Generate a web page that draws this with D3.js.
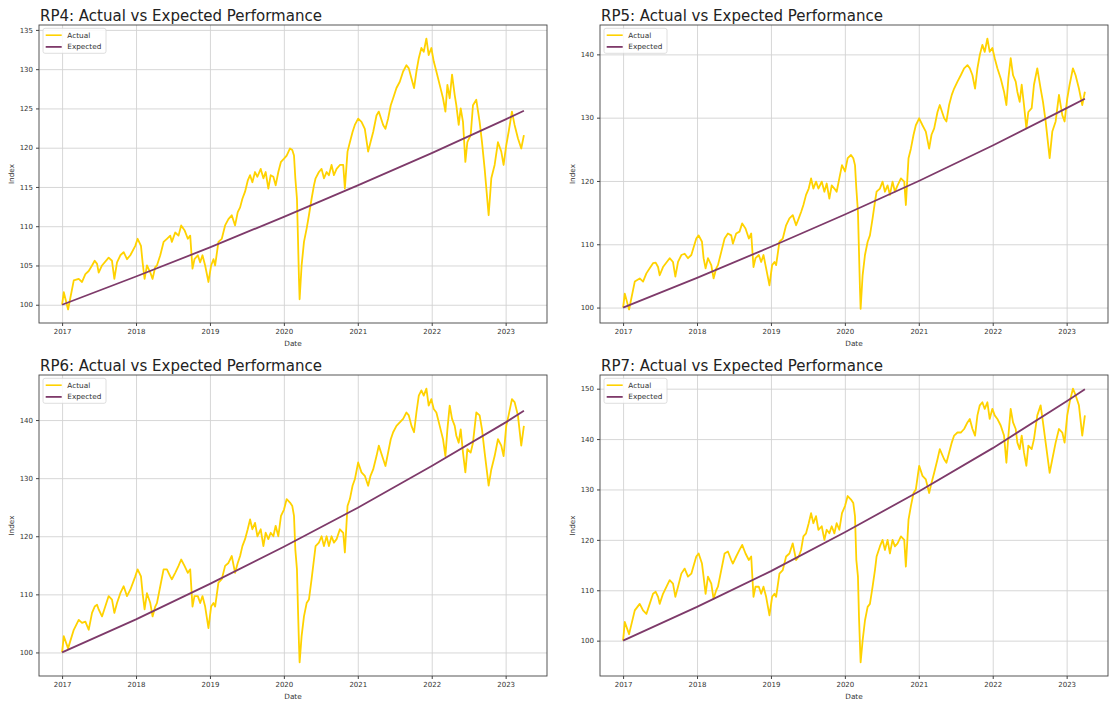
<!DOCTYPE html>
<html><head><meta charset="utf-8">
<script src="https://cdn.jsdelivr.net/npm/d3@7"></script>
<style>body{margin:0;background:#fff}svg{display:block}text{font-family:"DejaVu Sans",sans-serif}</style>
</head><body><svg id="c" width="1113" height="709"></svg>
<script>
// Shared sampling dates (decimal years)
const dates = [2017.000,2017.023,2017.081,2017.158,2017.225,2017.270,2017.315,2017.360,2017.405,2017.441,2017.473,2017.495,2017.540,2017.630,2017.675,2017.707,2017.743,2017.788,2017.833,2017.878,2017.923,2017.990,2018.022,2018.067,2018.089,2018.116,2018.148,2018.193,2018.224,2018.260,2018.283,2018.328,2018.373,2018.418,2018.463,2018.485,2018.530,2018.575,2018.611,2018.656,2018.701,2018.733,2018.764,2018.791,2018.836,2018.868,2018.899,2018.935,2018.980,2019.016,2019.048,2019.070,2019.115,2019.160,2019.205,2019.250,2019.295,2019.340,2019.376,2019.408,2019.439,2019.475,2019.511,2019.543,2019.574,2019.610,2019.642,2019.687,2019.723,2019.754,2019.790,2019.822,2019.858,2019.889,2019.925,2019.961,2020.002,2020.038,2020.083,2020.114,2020.137,2020.155,2020.177,2020.191,2020.204,2020.213,2020.240,2020.272,2020.308,2020.339,2020.375,2020.407,2020.429,2020.474,2020.510,2020.542,2020.578,2020.609,2020.645,2020.677,2020.713,2020.758,2020.803,2020.825,2020.861,2020.893,2020.929,2020.960,2021.005,2021.050,2021.095,2021.140,2021.172,2021.208,2021.253,2021.284,2021.343,2021.374,2021.410,2021.446,2021.478,2021.523,2021.568,2021.613,2021.658,2021.690,2021.726,2021.761,2021.793,2021.825,2021.860,2021.892,2021.928,2021.959,2021.995,2022.027,2022.063,2022.108,2022.153,2022.185,2022.212,2022.243,2022.275,2022.311,2022.333,2022.365,2022.392,2022.423,2022.455,2022.482,2022.527,2022.558,2022.603,2022.648,2022.680,2022.716,2022.770,2022.806,2022.851,2022.896,2022.941,2022.972,2023.008,2023.040,2023.085,2023.121,2023.166,2023.211,2023.247];

const rp4Actual = [100.0,101.6,99.4,103.1,103.3,102.9,103.9,104.3,105.0,105.6,105.2,104.1,105.0,106.0,105.6,103.3,105.4,106.3,106.7,105.8,106.3,107.5,108.4,107.5,105.4,103.3,105.0,104.1,103.3,104.8,105.0,106.3,108.0,108.4,108.8,108.0,109.2,108.8,110.1,109.5,108.4,108.8,104.6,105.8,106.3,105.4,106.3,105.0,102.9,105.0,105.8,105.0,108.0,108.4,110.1,110.9,111.4,110.1,111.8,112.4,113.5,114.4,115.8,116.5,115.6,116.9,116.3,117.3,116.1,116.9,114.8,116.5,116.3,115.2,116.9,118.2,118.6,119.0,119.9,119.7,119.0,116.1,113.5,108.4,103.3,100.7,105.0,108.0,109.7,111.4,113.5,115.2,116.1,116.9,117.3,116.1,116.9,116.5,117.8,116.5,117.3,117.8,117.8,114.8,119.5,120.7,122.0,122.9,123.7,123.3,122.4,119.5,120.7,122.0,124.1,124.6,122.9,122.4,123.7,125.4,126.3,127.6,128.4,129.7,130.5,130.1,128.8,127.6,129.7,131.4,132.7,132.2,133.9,131.8,132.7,131.0,129.7,128.0,126.3,124.6,128.0,126.3,129.3,126.7,125.4,122.9,125.0,123.3,118.2,120.7,121.6,125.4,126.1,123.3,120.7,117.3,111.4,116.1,117.8,120.7,119.5,117.8,120.3,122.0,124.6,122.9,121.2,119.9,121.6];

const rp5Actual = [100.0,102.2,99.7,104.1,104.6,104.1,105.4,106.2,107.0,107.1,106.4,105.1,106.4,107.8,107.2,104.9,107.2,108.3,108.5,107.8,108.3,110.9,111.4,110.4,107.8,106.2,107.8,106.7,104.6,106.2,106.7,108.8,110.9,111.7,111.4,110.1,111.7,112.0,113.3,112.5,110.9,111.7,106.4,107.8,108.3,107.2,108.3,106.2,103.5,106.7,107.2,106.7,110.4,110.9,113.0,114.1,114.6,113.0,114.1,115.1,116.2,117.8,118.8,120.4,118.8,119.9,118.8,119.9,118.3,119.6,117.2,119.3,118.8,118.3,120.4,122.5,121.5,123.6,124.1,123.6,122.5,118.8,115.1,108.8,103.0,99.8,105.1,108.3,110.4,111.4,114.1,116.7,118.3,118.8,119.9,118.3,119.3,117.8,119.9,118.3,119.3,120.4,119.9,116.2,123.6,125.1,127.3,128.8,129.9,128.8,127.8,125.1,127.3,128.3,130.9,132.0,129.9,129.4,132.0,133.6,134.6,135.7,136.7,137.8,138.3,137.8,136.7,134.6,137.8,139.9,141.5,140.4,142.5,140.4,141.0,139.4,137.8,136.2,134.1,132.0,136.2,139.4,136.7,135.7,134.1,132.5,135.2,132.0,128.3,130.9,131.5,135.2,137.8,134.6,132.5,129.4,123.6,127.8,129.4,133.6,130.4,129.4,133.0,135.2,137.8,136.7,134.6,132.0,134.1];

const rp6Actual = [100.0,102.8,100.7,103.9,105.6,105.1,105.3,103.9,106.8,107.9,108.2,107.4,106.2,109.7,109.1,106.8,108.5,110.2,111.4,109.7,110.8,113.1,114.3,113.1,110.2,107.4,110.2,108.5,106.2,107.9,108.5,111.4,114.3,114.3,113.1,112.6,113.7,114.9,116.0,114.9,113.7,114.3,107.9,109.7,109.7,108.5,109.7,107.9,104.2,107.9,108.5,107.9,112.0,112.6,114.9,115.4,116.6,113.7,115.4,116.6,118.3,119.5,121.2,122.9,121.2,122.3,120.0,121.2,118.3,120.6,119.5,120.6,120.0,121.8,120.0,123.5,124.6,126.4,125.8,125.2,123.5,117.7,114.3,107.4,101.6,98.3,102.8,106.2,108.5,109.1,112.6,116.0,118.3,118.9,120.0,118.3,120.0,118.3,120.0,118.9,119.5,121.2,120.6,117.2,125.2,126.4,128.7,129.8,132.7,131.0,130.4,128.7,130.4,131.5,133.8,135.6,133.3,132.1,134.4,136.7,137.9,139.0,139.6,140.2,141.3,140.8,139.0,137.9,141.3,144.2,145.1,144.2,145.4,142.5,143.6,141.9,141.3,139.0,136.7,133.8,138.4,142.5,140.2,139.0,137.3,136.1,138.4,134.4,131.0,135.0,134.4,136.1,141.3,140.8,138.4,134.4,128.7,131.5,133.8,136.7,135.6,133.8,139.0,140.8,143.6,143.1,140.8,135.6,139.0];

const rp7Actual = [100.0,103.7,101.3,106.0,107.3,106.0,105.3,107.3,109.3,109.7,108.7,107.3,109.3,112.0,111.3,108.7,110.7,113.3,114.3,112.7,113.3,116.7,117.3,115.3,112.7,109.3,112.7,111.3,108.3,110.0,110.7,114.0,117.3,117.7,116.0,115.3,116.7,118.0,119.0,117.3,116.0,116.7,108.7,110.7,110.7,109.3,110.7,108.7,105.0,108.7,109.3,108.7,113.3,114.0,116.7,117.3,119.3,116.0,116.7,118.0,120.7,121.3,123.3,125.3,123.3,124.7,122.0,122.7,120.0,122.0,121.3,122.7,121.3,123.3,122.0,125.3,126.7,128.7,128.0,127.3,124.7,116.0,112.7,104.7,99.3,95.7,100.0,104.0,106.7,107.3,110.7,114.0,116.7,118.7,120.0,118.0,120.0,117.3,120.0,118.7,119.3,120.7,120.0,114.7,124.0,126.7,129.3,130.0,134.7,132.7,132.0,129.3,131.3,133.3,136.0,138.0,136.0,135.3,137.3,139.3,140.7,141.3,141.3,142.0,143.3,144.0,142.0,140.7,144.7,146.7,147.3,146.0,147.3,144.0,146.0,144.7,144.0,142.7,140.7,135.3,140.7,146.0,143.3,142.0,139.3,138.0,140.7,137.3,134.7,138.7,138.0,140.0,144.7,146.7,143.3,139.3,133.3,136.0,139.3,142.0,141.3,139.3,144.7,147.3,150.0,148.7,146.7,140.7,144.7];

// Expected curves, read at year marks
const expectedDates = [2017, 2018, 2019, 2020, 2021, 2022, 2023, 2023.247];
const rp4Expected = [100, 103.6, 107.3, 111.2, 115.2, 119.3, 123.6, 124.7];
const rp5Expected = [100, 104.7, 109.6, 114.7, 120.0, 125.6, 131.5, 133.0];
const rp6Expected = [100, 105.7, 111.8, 118.2, 124.9, 132.1, 139.6, 141.6];
const rp7Expected = [100, 106.7, 113.8, 121.5, 129.6, 138.2, 147.5, 149.9];

const xTicks = [2017, 2018, 2019, 2020, 2021, 2022, 2023];
const rp4YTicks = [100, 105, 110, 115, 120, 125, 130, 135];
const rp5YTicks = [100, 110, 120, 130, 140];
const rp6YTicks = [100, 110, 120, 130, 140];
const rp7YTicks = [100, 110, 120, 130, 140, 150];

const panelNames = ["RP4", "RP5", "RP6", "RP7"];
const actualSeries = [rp4Actual, rp5Actual, rp6Actual, rp7Actual];
const expectedSeries = [rp4Expected, rp5Expected, rp6Expected, rp7Expected];
const yTickSets = [rp4YTicks, rp5YTicks, rp6YTicks, rp7YTicks];

const layout = [
  {x: 39, y: 25, w: 508, h: 298},
  {x: 600, y: 25, w: 508, h: 298},
  {x: 39, y: 375, w: 508, h: 301},
  {x: 600, y: 375, w: 508, h: 301}
];

const ACTUAL = "#FFD200", EXPECTED = "#7e3a6a", GRID = "#d3d3d3", TXT = "#333";
const svg = d3.select("#c");

function pad(ext) { const r = ext[1] - ext[0]; return [ext[0] - 0.05 * r, ext[1] + 0.05 * r]; }

panelNames.forEach((name, i) => {
  const L = layout[i];
  const actual = dates.map((d, k) => ({t: d, v: actualSeries[i][k]}));
  const expected = expectedDates.map((d, k) => ({t: d, v: expectedSeries[i][k]}));
  const x = d3.scaleLinear().domain(pad(d3.extent(dates))).range([0, L.w]);
  const allV = actualSeries[i].concat(expectedSeries[i]);
  const y = d3.scaleLinear().domain(pad(d3.extent(allV))).range([L.h, 0]);

  const g = svg.append("g").attr("transform", `translate(${L.x},${L.y})`);

  // grid
  g.append("g").attr("transform", `translate(0,${L.h})`)
    .call(d3.axisBottom(x).tickValues(xTicks).tickSize(-L.h).tickFormat(""))
    .call(a => { a.select(".domain").remove(); a.selectAll("line").attr("stroke", GRID).attr("stroke-width", 0.9); });
  g.append("g")
    .call(d3.axisLeft(y).tickValues(yTickSets[i]).tickSize(-L.w).tickFormat(""))
    .call(a => { a.select(".domain").remove(); a.selectAll("line").attr("stroke", GRID).attr("stroke-width", 0.9); });

  // lines
  const line = d3.line().x(d => x(d.t)).y(d => y(d.v));
  g.append("path").datum(actual).attr("d", line).attr("fill", "none")
    .attr("stroke", ACTUAL).attr("stroke-width", 1.8).attr("stroke-linejoin", "round");
  g.append("path").datum(expected).attr("d", line).attr("fill", "none")
    .attr("stroke", EXPECTED).attr("stroke-width", 1.8);

  // frame
  g.append("rect").attr("width", L.w).attr("height", L.h).attr("fill", "none")
    .attr("stroke", "#444").attr("stroke-width", 0.9);

  // axes
  g.append("g").attr("transform", `translate(0,${L.h})`)
    .call(d3.axisBottom(x).tickValues(xTicks).tickFormat(d3.format("d")).tickSize(3).tickPadding(3.5))
    .call(a => { a.select(".domain").remove(); a.selectAll("line").attr("stroke", "#444");
      a.selectAll("text").attr("fill", TXT).style("font-size", "7px").style("font-family", "DejaVu Sans"); });
  g.append("g")
    .call(d3.axisLeft(y).tickValues(yTickSets[i]).tickFormat(d3.format("d")).tickSize(3).tickPadding(3))
    .call(a => { a.select(".domain").remove(); a.selectAll("line").attr("stroke", "#444");
      a.selectAll("text").attr("fill", TXT).style("font-size", "7px").style("font-family", "DejaVu Sans"); });

  // labels
  g.append("text").attr("x", L.w / 2).attr("y", L.h + 23).attr("text-anchor", "middle")
    .attr("fill", TXT).style("font-size", "7.3px").text("Date");
  g.append("text").attr("transform", `translate(-25.5,${L.h / 2}) rotate(-90)`).attr("text-anchor", "middle")
    .attr("fill", TXT).style("font-size", "7.3px").text("Index");
  g.append("text").attr("x", 1).attr("y", -4.5).attr("fill", "#222")
    .style("font-size", "15px").text(`${name}: Actual vs Expected Performance`);

  // legend
  const lg = g.append("g").attr("transform", "translate(4,3.3)");
  lg.append("rect").attr("width", 63).attr("height", 25).attr("rx", 2)
    .attr("fill", "#fff").attr("fill-opacity", 0.85).attr("stroke", "#d6d6d6").attr("stroke-width", 0.8);
  [["Actual", ACTUAL, 1.6], ["Expected", EXPECTED, 1.8]].forEach(([lab, col, w], k) => {
    const yy = 6.9 + k * 11.7;
    lg.append("line").attr("x1", 2.7).attr("x2", 18.7).attr("y1", yy).attr("y2", yy)
      .attr("stroke", col).attr("stroke-width", w);
    lg.append("text").attr("x", 24.3).attr("y", yy + 2.6).attr("fill", TXT)
      .style("font-size", "7.3px").text(lab);
  });
});
</script></body></html>
